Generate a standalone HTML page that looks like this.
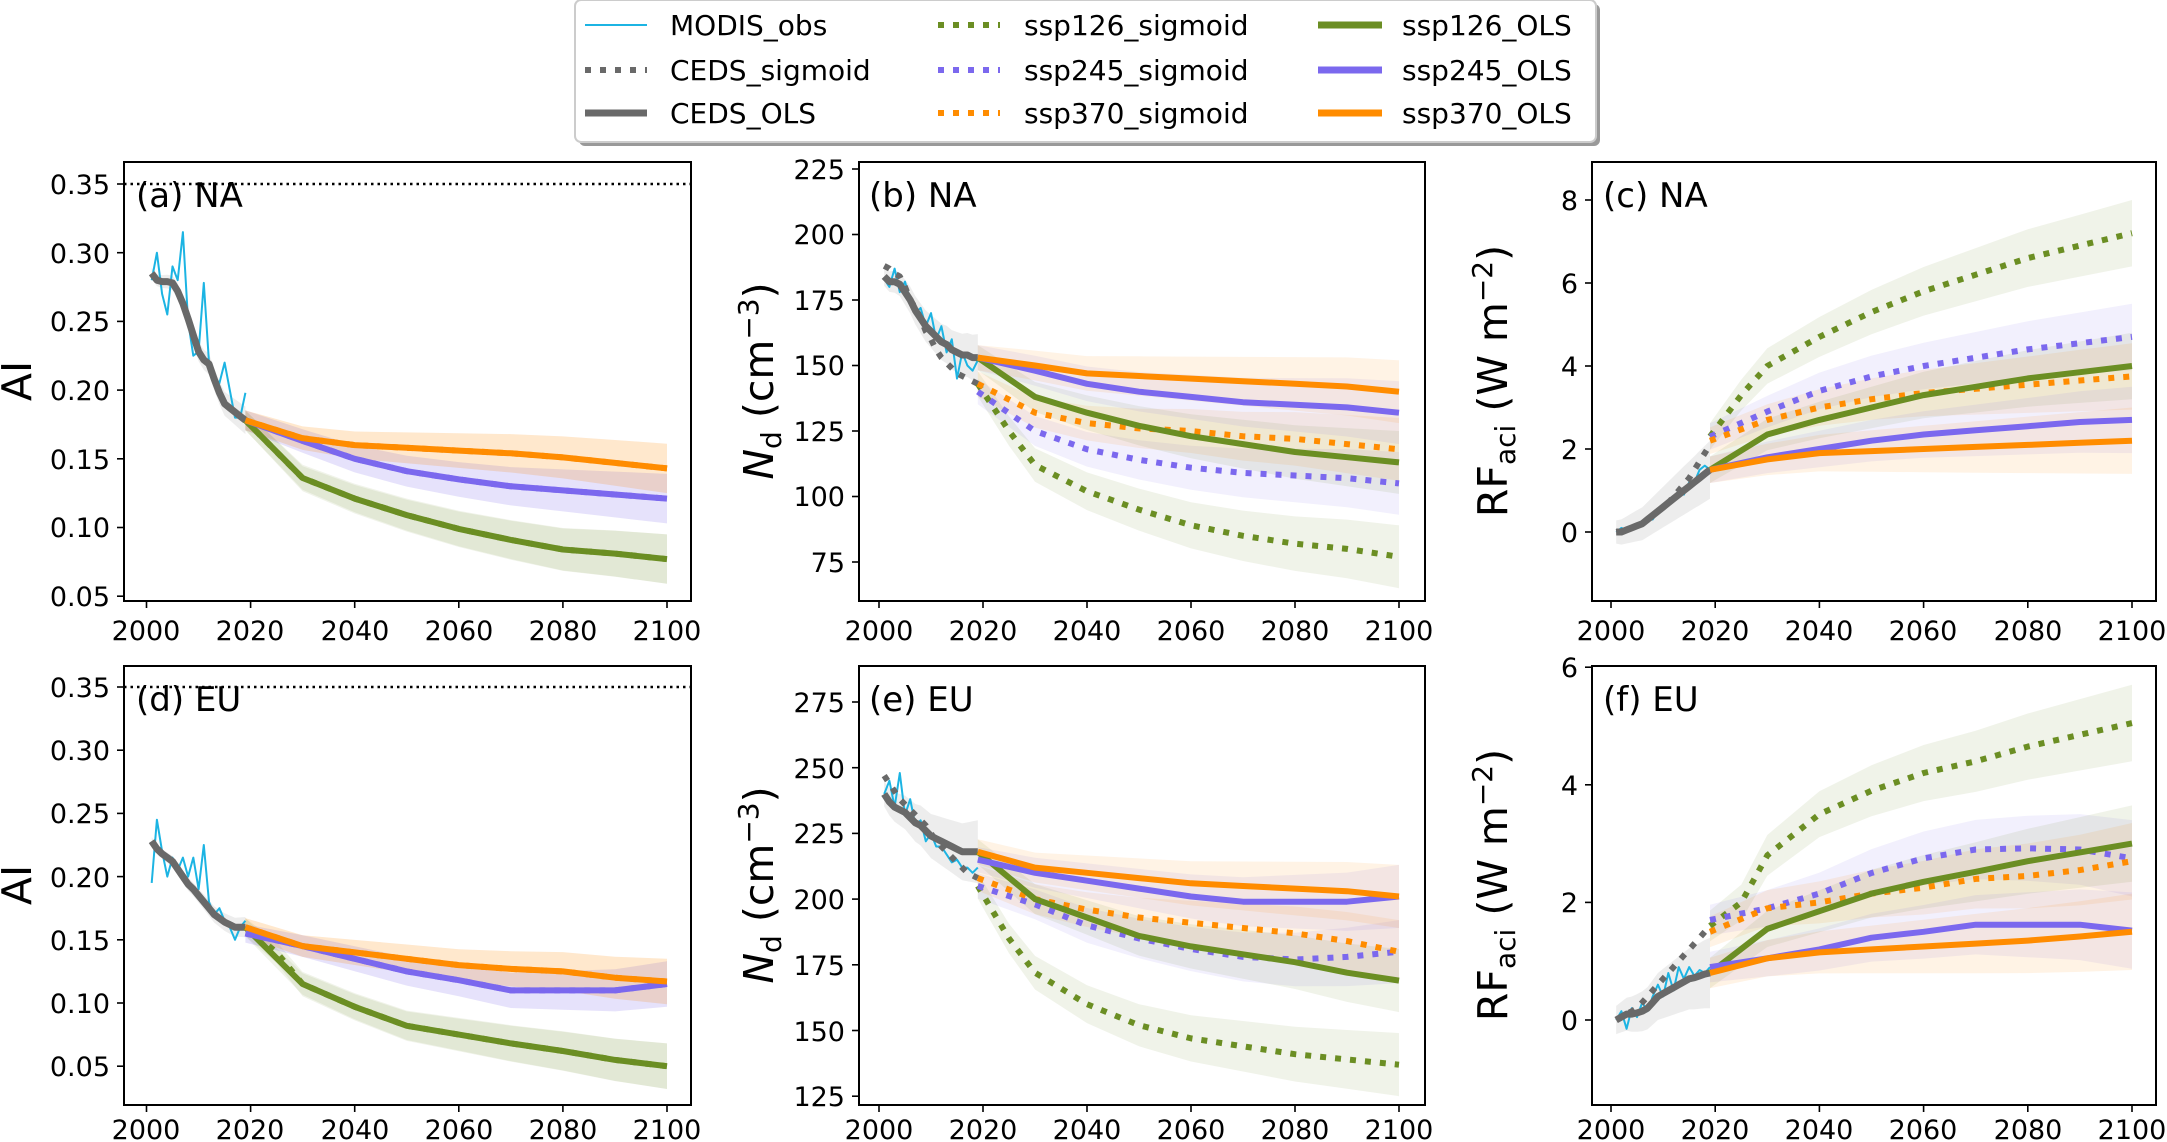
<!DOCTYPE html>
<html><head><meta charset="utf-8">
<style>
html,body{margin:0;padding:0;background:#fff;}
svg{display:block;font-family:"DejaVu Sans","Liberation Sans",sans-serif;}
.tk{font-size:27px;fill:#000;}
.pl{font-size:34px;fill:#000;}
.yl{font-size:41px;fill:#000;}
.lg{font-size:28px;fill:#000;}
</style></head>
<body>
<svg id="s" width="2167" height="1142" viewBox="0 0 2167 1142" xmlns="http://www.w3.org/2000/svg">
<g id="plots"></g>
<g fill="none" stroke="#000" stroke-width="2">
<rect x="124" y="162" width="567" height="439"/>
<rect x="859" y="162" width="566" height="439"/>
<rect x="1592" y="162" width="564" height="439"/>
<rect x="124" y="666" width="567" height="439"/>
<rect x="859" y="666" width="566" height="439"/>
<rect x="1592" y="666" width="564" height="439"/>
</g>
<line x1="124" y1="184" x2="691" y2="184" stroke="#000" stroke-width="2.5" stroke-dasharray="2.5 4"/>
<line x1="124" y1="687" x2="691" y2="687" stroke="#000" stroke-width="2.5" stroke-dasharray="2.5 4"/>
<g id="ticks" stroke="#000" stroke-width="1.6"></g>
<g class="tk" text-anchor="end">
<text x="110" y="194">0.35</text><text x="110" y="263">0.30</text><text x="110" y="331">0.25</text><text x="110" y="400">0.20</text><text x="110" y="469">0.15</text><text x="110" y="537">0.10</text><text x="110" y="606">0.05</text>
<text x="845" y="179">225</text><text x="845" y="244">200</text><text x="845" y="310">175</text><text x="845" y="375">150</text><text x="845" y="441">125</text><text x="845" y="506">100</text><text x="845" y="572">75</text>
<text x="1578" y="542">0</text><text x="1578" y="459">2</text><text x="1578" y="376">4</text><text x="1578" y="293">6</text><text x="1578" y="210">8</text>
<text x="110" y="697">0.35</text><text x="110" y="760">0.30</text><text x="110" y="823">0.25</text><text x="110" y="887">0.20</text><text x="110" y="950">0.15</text><text x="110" y="1013">0.10</text><text x="110" y="1076">0.05</text>
<text x="845" y="712">275</text><text x="845" y="778">250</text><text x="845" y="843">225</text><text x="845" y="909">200</text><text x="845" y="975">175</text><text x="845" y="1041">150</text><text x="845" y="1106">125</text>
<text x="1578" y="1030">0</text><text x="1578" y="912">2</text><text x="1578" y="795">4</text><text x="1578" y="677">6</text>
</g>
<g class="tk" text-anchor="middle">
<text x="146" y="640">2000</text><text x="250" y="640">2020</text><text x="355" y="640">2040</text><text x="459" y="640">2060</text><text x="563" y="640">2080</text><text x="667" y="640">2100</text>
<text x="879" y="640">2000</text><text x="983" y="640">2020</text><text x="1087" y="640">2040</text><text x="1191" y="640">2060</text><text x="1295" y="640">2080</text><text x="1399" y="640">2100</text>
<text x="1611" y="640">2000</text><text x="1715" y="640">2020</text><text x="1819" y="640">2040</text><text x="1923" y="640">2060</text><text x="2028" y="640">2080</text><text x="2132" y="640">2100</text>
<text x="146" y="1139">2000</text><text x="250" y="1139">2020</text><text x="355" y="1139">2040</text><text x="459" y="1139">2060</text><text x="563" y="1139">2080</text><text x="667" y="1139">2100</text>
<text x="879" y="1139">2000</text><text x="983" y="1139">2020</text><text x="1087" y="1139">2040</text><text x="1191" y="1139">2060</text><text x="1295" y="1139">2080</text><text x="1399" y="1139">2100</text>
<text x="1611" y="1139">2000</text><text x="1715" y="1139">2020</text><text x="1819" y="1139">2040</text><text x="1923" y="1139">2060</text><text x="2028" y="1139">2080</text><text x="2132" y="1139">2100</text>
</g>
<g class="pl">
<text x="136" y="207">(a) NA</text><text x="869" y="207">(b) NA</text><text x="1603" y="207">(c) NA</text>
<text x="136" y="711">(d) EU</text><text x="869" y="711">(e) EU</text><text x="1603" y="711">(f) EU</text>
</g>
<g class="yl" text-anchor="middle">
<text transform="translate(31,381) rotate(-90)">AI</text>
<text transform="translate(31,885) rotate(-90)">AI</text>
<text transform="translate(773,381) rotate(-90)"><tspan font-style="italic">N</tspan><tspan font-size="28" dy="8">d</tspan><tspan dy="-8"> (cm</tspan><tspan font-size="28" dy="-15">−3</tspan><tspan dy="15">)</tspan></text>
<text transform="translate(773,885) rotate(-90)"><tspan font-style="italic">N</tspan><tspan font-size="28" dy="8">d</tspan><tspan dy="-8"> (cm</tspan><tspan font-size="28" dy="-15">−3</tspan><tspan dy="15">)</tspan></text>
<text transform="translate(1507,381) rotate(-90)">RF<tspan font-size="28" dy="8">aci</tspan><tspan dy="-8"> (W m</tspan><tspan font-size="28" dy="-15">−2</tspan><tspan dy="15">)</tspan></text>
<text transform="translate(1507,885) rotate(-90)">RF<tspan font-size="28" dy="8">aci</tspan><tspan dy="-8"> (W m</tspan><tspan font-size="28" dy="-15">−2</tspan><tspan dy="15">)</tspan></text>
</g>
<rect x="579" y="4" width="1021" height="142" rx="6" fill="#999"/>
<rect x="575" y="0" width="1021" height="142" rx="6" fill="#fff" stroke="#ccc" stroke-width="2"/>
<g stroke-width="6" fill="none">
<line x1="585" y1="25" x2="647" y2="25" stroke="#1cb4e3" stroke-width="2"/>
<line x1="585" y1="70" x2="647" y2="70" stroke="#696969" stroke-dasharray="6 9"/>
<line x1="585" y1="113" x2="647" y2="113" stroke="#696969" stroke-width="7"/>
<line x1="938" y1="25" x2="1000" y2="25" stroke="#6b8e23" stroke-dasharray="6 9"/>
<line x1="938" y1="70" x2="1000" y2="70" stroke="#7b68ee" stroke-dasharray="6 9"/>
<line x1="938" y1="113" x2="1000" y2="113" stroke="#ff8c00" stroke-dasharray="6 9"/>
<line x1="1318" y1="25" x2="1382" y2="25" stroke="#6b8e23" stroke-width="7"/>
<line x1="1318" y1="70" x2="1382" y2="70" stroke="#7b68ee" stroke-width="7"/>
<line x1="1318" y1="113" x2="1382" y2="113" stroke="#ff8c00" stroke-width="7"/>
</g>
<g class="lg">
<text x="670" y="35">MODIS_obs</text><text x="670" y="80">CEDS_sigmoid</text><text x="670" y="123">CEDS_OLS</text>
<text x="1024" y="35">ssp126_sigmoid</text><text x="1024" y="80">ssp245_sigmoid</text><text x="1024" y="123">ssp370_sigmoid</text>
<text x="1402" y="35">ssp126_OLS</text><text x="1402" y="80">ssp245_OLS</text><text x="1402" y="123">ssp370_OLS</text>
</g>
</svg>
<script>
(function(){
var NS="http://www.w3.org/2000/svg";
var G=document.getElementById('plots'), T=document.getElementById('ticks');
function el(p,n,a){var e=document.createElementNS(NS,n);for(var k in a)e.setAttribute(k,a[k]);p.appendChild(e);return e;}
var C={g:'#6b8e23',b:'#7b68ee',o:'#ff8c00',k:'#696969',m:'#1cb4e3'};
var hy=[];for(var i=2001;i<=2019;i++)hy.push(i);
var sy=[2019,2030,2040,2050,2060,2070,2080,2090,2100];
var sy10=[2019,2025,2030,2040,2050,2060,2070,2080,2090,2100];
function panel(P){
 var X=function(y){return P.x0+(y-2000)*P.xs;}, Y=P.Y;
 var g=el(G,'g',{});
 function pts(xs,vs,off){return xs.map(function(x,i){return X(x).toFixed(1)+','+Y(vs[i]+(off?off(i):0)).toFixed(1);});}
 function band(xs,vs,w,col,op){
  var up=pts(xs,vs,function(i){return w*(0.4+0.6*i/(xs.length-1));});
  var lo=pts(xs,vs,function(i){return -w*(0.4+0.6*i/(xs.length-1));}).reverse();
  el(g,'polygon',{points:up.concat(lo).join(' '),fill:col,'fill-opacity':op});
 }
 function line(xs,vs,col,w,dash){var a={points:pts(xs,vs).join(' '),fill:'none',stroke:col,'stroke-width':w,'stroke-linejoin':'round'};if(dash)a['stroke-dasharray']=dash;el(g,'polyline',a);}
 band(hy,P.ceo,P.hw,'#999',0.18);
 var S=P.s;
 [['g',S.g126s,sy10],['b',S.b245s,sy],['o',S.o370s,sy],['g',S.g126,sy],['b',S.b245,sy],['o',S.o370,sy]].forEach(function(a){band(a[2],a[1],P.bw,C[a[0]],0.1);});
 line(hy,P.obs,C.m,2);
 line(hy,P.ces,C.k,6,'6 9');
 line(hy,P.ceo,C.k,7);
 line(sy10,S.g126s,C.g,6,'6 9');line(sy,S.b245s,C.b,6,'6 9');line(sy,S.o370s,C.o,6,'6 9');
 line(sy,S.g126,C.g,6);line(sy,S.b245,C.b,6);line(sy,S.o370,C.o,6);
 for(var yr=2000;yr<=2100;yr+=20)el(T,'line',{x1:X(yr),x2:X(yr),y1:P.bot,y2:P.bot+7});
 P.yt.forEach(function(v){el(T,'line',{x1:P.L-7,x2:P.L,y1:Y(v),y2:Y(v)});});
}
var aOLS={g126:[.178,.136,.121,.109,.099,.091,.084,.081,.077],b245:[.178,.163,.15,.141,.135,.13,.127,.124,.121],o370:[.178,.165,.16,.158,.156,.154,.151,.147,.143]};
panel({x0:146.5,xs:5.205,L:124,bot:601,Y:function(v){return 184+(0.35-v)/0.05*68.7;},yt:[.05,.1,.15,.2,.25,.3,.35],hw:.01,bw:.018,
 obs:[.28,.30,.27,.255,.29,.28,.315,.25,.225,.228,.278,.22,.21,.205,.22,.20,.18,.18,.198],
 ceo:[.285,.28,.279,.279,.278,.272,.263,.252,.24,.228,.222,.219,.208,.198,.19,.187,.184,.181,.178],
 ces:[.285,.28,.279,.279,.278,.272,.263,.252,.24,.228,.222,.219,.208,.198,.19,.187,.184,.181,.178],
 s:{g126:aOLS.g126,b245:aOLS.b245,o370:aOLS.o370,g126s:[.178,.155].concat(aOLS.g126.slice(1)),b245s:aOLS.b245,o370s:aOLS.o370}});
var dO={g126:[.16,.115,.097,.082,.075,.068,.062,.055,.05],b245:[.155,.145,.135,.125,.118,.11,.11,.11,.115],o370:[.16,.145,.14,.135,.13,.127,.125,.12,.117]};
panel({x0:146.5,xs:5.205,L:124,bot:1105,Y:function(v){return 687+(0.35-v)/0.05*63.2;},yt:[.05,.1,.15,.2,.25,.3,.35],hw:.008,bw:.018,
 obs:[.195,.245,.22,.2,.215,.205,.215,.2,.215,.19,.225,.18,.17,.175,.165,.16,.15,.16,.165],
 ceo:[.228,.222,.218,.215,.212,.206,.2,.194,.19,.185,.18,.175,.17,.167,.164,.162,.16,.16,.16],
 ces:[.228,.222,.218,.215,.212,.206,.2,.194,.19,.185,.18,.175,.17,.167,.164,.162,.16,.16,.16],
 s:{g126:dO.g126,b245:dO.b245,o370:dO.o370,g126s:[.16,.14].concat(dO.g126.slice(1)),b245s:dO.b245,o370s:dO.o370}});
panel({x0:879,xs:5.2,L:859,bot:601,Y:function(v){return 169+(225-v)*2.62;},yt:[75,100,125,150,175,200,225],hw:9,bw:12,
 obs:[183,180,187,178,182,175,170,172,165,170,160,165,155,160,145,155,150,148,152],
 ceo:[184,182,182,181,178,175,171,168,165,163,161,159,158,156,155,154,154,153,153],
 ces:[188,187,185,184,180,175,172,168,163,160,156,153,151,149,147,146,145,144,143],
 s:{o370:[153,150,147,146,145,144,143,142,140],b245:[153,148,143,140,138,136,135,134,132],g126:[153,138,132,127,123,120,117,115,113],
 o370s:[143,132,128,126,125,123,122,120,118],b245s:[140,125,118,114,111,109,108,107,105],g126s:[143,125,112,102,95,89,85,82,80,77]}});
panel({x0:879,xs:5.2,L:859,bot:1105,Y:function(v){return 702+(275-v)*2.628;},yt:[125,150,175,200,225,250,275],hw:12,bw:12,
 obs:[240,245,235,248,232,238,228,230,222,225,220,220,217,214,215,212,212,210,212],
 ceo:[240,237,235,234,233,231,229,228,226,224,223,222,221,220,219,218,218,218,218],
 ces:[247,244,241,238,236,234,232,230,228,225,222,220,218,216,214,212,210,209,208],
 s:{o370:[218,212,210,208,206,205,204,203,201],b245:[215,210,207,204,201,199,199,199,201],g126:[218,200,193,186,182,179,176,172,169],
 o370s:[208,200,196,193,191,189,187,184,180],b245s:[205,198,190,185,181,178,177,178,180],g126s:[205,185,172,160,152,147,144,141,139,137]}});
panel({x0:1611,xs:5.21,L:1592,bot:601,Y:function(v){return 532-v*41.5;},yt:[0,2,4,6,8],hw:.7,bw:.8,
 obs:[0,.1,.05,.15,.1,.2,.3,.3,.5,.6,.7,.8,1.0,.9,1.2,1.2,1.5,1.6,1.5],
 ceo:[0,0,.05,.1,.15,.2,.3,.4,.5,.6,.7,.8,.9,1.0,1.1,1.2,1.3,1.4,1.5],
 ces:[0,.02,.05,.1,.15,.2,.3,.4,.5,.6,.7,.85,1.0,1.15,1.3,1.5,1.7,1.9,2.1],
 s:{o370:[1.5,1.75,1.9,1.95,2.0,2.05,2.1,2.15,2.2],b245:[1.5,1.8,2.0,2.2,2.35,2.45,2.55,2.65,2.7],g126:[1.5,2.35,2.7,3.0,3.3,3.5,3.7,3.85,4.0],
 o370s:[2.2,2.7,3.0,3.2,3.35,3.45,3.55,3.65,3.75],b245s:[2.3,2.9,3.4,3.75,4.0,4.2,4.4,4.55,4.7],g126s:[2.3,3.3,4.0,4.7,5.3,5.8,6.2,6.6,6.9,7.2]}});
panel({x0:1611,xs:5.21,L:1592,bot:1105,Y:function(v){return 1020-v*58.8;},yt:[0,2,4,6],hw:.6,bw:.65,
 obs:[0,.15,-.15,.2,.05,.3,.15,.4,.6,.4,.8,.5,.9,.7,.9,.75,.85,.8,.9],
 ceo:[0,.05,.1,.1,.12,.15,.2,.3,.4,.45,.5,.55,.6,.65,.7,.72,.75,.78,.8],
 ces:[0,.05,.1,.15,.2,.3,.4,.5,.6,.7,.8,.9,1.0,1.1,1.2,1.3,1.4,1.5,1.6],
 s:{o370:[.8,1.05,1.15,1.2,1.25,1.3,1.35,1.42,1.5],b245:[.9,1.05,1.2,1.4,1.5,1.62,1.62,1.62,1.52],g126:[.8,1.55,1.85,2.15,2.35,2.52,2.7,2.85,3.0],
 o370s:[1.5,1.9,2.0,2.15,2.25,2.4,2.45,2.55,2.7],b245s:[1.7,1.9,2.15,2.5,2.75,2.9,2.92,2.9,2.75],g126s:[1.6,2.0,2.8,3.5,3.9,4.2,4.4,4.65,4.85,5.05]}});
})();
</script>
</body></html>
